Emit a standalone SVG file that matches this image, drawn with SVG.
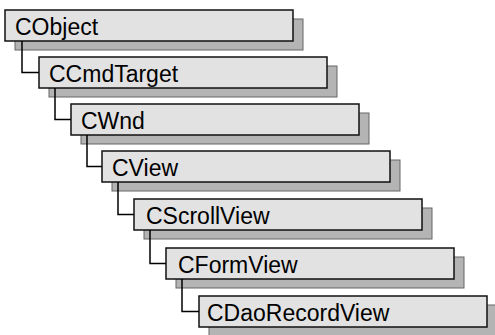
<svg xmlns="http://www.w3.org/2000/svg" width="495" height="335" viewBox="0 0 495 335">
<style>
.box{fill:#e2e2e2;stroke:#111;stroke-width:1.5}
.sh{fill:#b4b4b4;stroke:#666;stroke-width:1}
.lbl{font-family:"Liberation Sans",Arial,sans-serif;font-size:23px;fill:#000}
.con{fill:none;stroke:#000;stroke-width:1.5}
</style>
<rect width="495" height="335" fill="#fff"/>
<g id="CObject">
<rect class="sh" x="15" y="19" width="288" height="31"/>
<rect class="box" x="5" y="10" width="288" height="31"/>
<text class="lbl" x="15" y="35">CObject</text>
</g>
<g id="CCmdTarget">
<rect class="sh" x="49" y="66" width="288" height="31"/>
<rect class="box" x="39" y="57" width="288" height="31"/>
<text class="lbl" x="49" y="82">CCmdTarget</text>
</g>
<g id="CWnd">
<rect class="sh" x="81" y="113" width="288" height="31"/>
<rect class="box" x="71" y="104" width="288" height="31"/>
<text class="lbl" x="81" y="129">CWnd</text>
</g>
<g id="CView">
<rect class="sh" x="112" y="160" width="288" height="31"/>
<rect class="box" x="102" y="151" width="288" height="31"/>
<text class="lbl" x="112" y="176">CView</text>
</g>
<g id="CScrollView">
<rect class="sh" x="144" y="208" width="288" height="31"/>
<rect class="box" x="134" y="199" width="288" height="31"/>
<text class="lbl" x="146" y="224">CScrollView</text>
</g>
<g id="CFormView">
<rect class="sh" x="176" y="257" width="288" height="31"/>
<rect class="box" x="166" y="248" width="288" height="31"/>
<text class="lbl" x="178" y="273">CFormView</text>
</g>
<g id="CDaoRecordView">
<rect class="sh" x="209" y="305" width="288" height="31"/>
<rect class="box" x="199" y="296" width="288" height="31"/>
<text class="lbl" x="207" y="321">CDaoRecordView</text>
</g>
<g id="connectors">
<polyline class="con" points="22,41 22,72.5 39,72.5"/>
<polyline class="con" points="55,88 55,119.5 71,119.5"/>
<polyline class="con" points="87,135 87,166.5 102,166.5"/>
<polyline class="con" points="118,182 118,214.5 134,214.5"/>
<polyline class="con" points="150,230 150,263.5 166,263.5"/>
<polyline class="con" points="182,279 182,311.5 199,311.5"/>
</g>
</svg>
